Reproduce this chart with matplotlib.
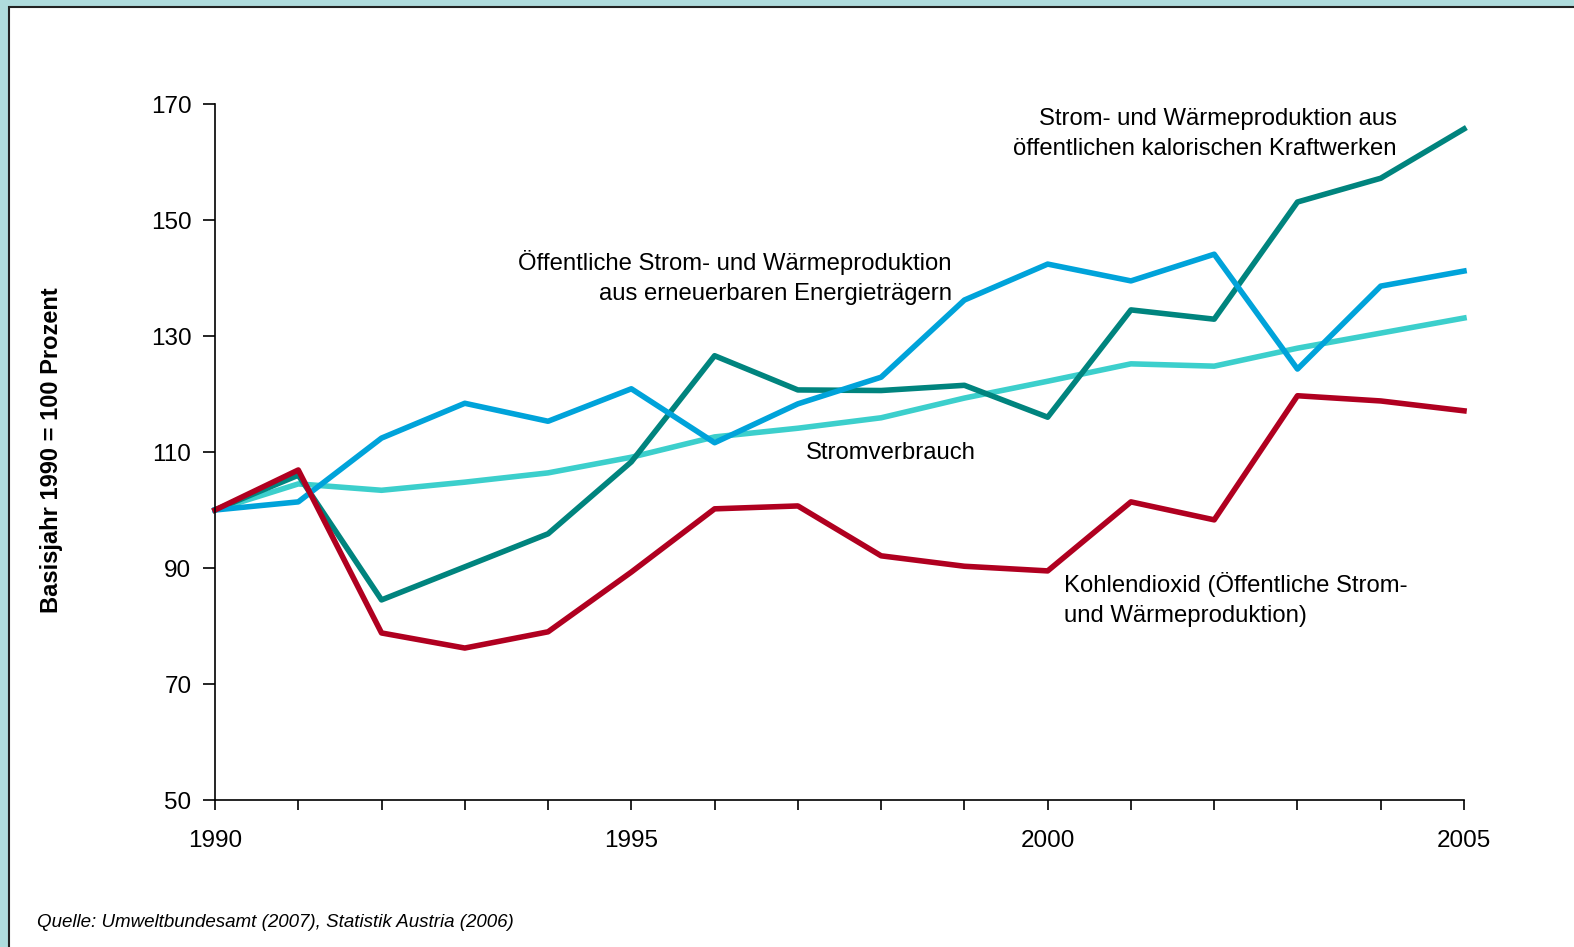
import matplotlib
matplotlib.use('Agg')
import matplotlib.pyplot as plt
from matplotlib.patches import Rectangle

plt.rcParams['font.family'] = ['Liberation Sans', 'DejaVu Sans']

years = list(range(1990, 2006))
kalorisch = [100, 106.0, 84.5, 90.2, 95.9, 108.3, 126.6, 120.7, 120.6, 121.5,
             116.0, 134.5, 132.9, 153.1, 157.2, 165.7]
erneuerbar = [100, 101.4, 112.4, 118.4, 115.3, 120.9, 111.6, 118.3, 122.9, 136.2,
              142.4, 139.5, 144.1, 124.3, 138.6, 141.2]
stromverbrauch = [100, 104.5, 103.4, 104.8, 106.4, 109.1, 112.6, 114.1, 115.9, 119.3,
                  122.2, 125.2, 124.8, 127.9, 130.5, 133.1]
kohlendioxid = [100, 106.9, 78.8, 76.2, 79.0, 89.3, 100.2, 100.7, 92.1, 90.3,
                89.5, 101.4, 98.3, 119.7, 118.8, 117.1]

yticks = [50, 70, 90, 110, 130, 150, 170]
xticklabels = {1990: '1990', 1995: '1995', 2000: '2000', 2005: '2005'}

fig = plt.figure(figsize=(15.74, 9.47), dpi=100)
fig.patch.set_facecolor('#afdcdd')
fig.patches.append(Rectangle((9 / 1574, -0.05), 1.2, 1.05 - 7 / 947,
                             transform=fig.transFigure, facecolor='white',
                             edgecolor='#222222', linewidth=1.5, zorder=-10))

ax = fig.add_axes([215 / 1574, 147 / 947, 1249 / 1574, 696 / 947])
ax.set_facecolor('none')
lw = 4.0
ax.plot(years, stromverbrauch, color='#3ccfcc', lw=lw, clip_on=False)
ax.plot(years, kalorisch, color='#00847e', lw=lw, clip_on=False)
ax.plot(years, erneuerbar, color='#00a3da', lw=lw, clip_on=False)
ax.plot(years, kohlendioxid, color='#b00020', lw=lw, clip_on=False)

ax.set_xlim(1990, 2005)
ax.set_ylim(50, 170)
ax.set_yticks(yticks)
ax.set_xticks(years)
ax.set_xticklabels([xticklabels.get(y, '') for y in years])
for s in ['top', 'right']:
    ax.spines[s].set_visible(False)
for s in ['left', 'bottom']:
    ax.spines[s].set_linewidth(1.2)
ax.tick_params(axis='y', length=9, width=1.2, pad=8, labelsize=17.5)
ax.tick_params(axis='x', length=7, width=1.2, pad=14.5, labelsize=17.5)

fs = 17.2
ax.text(2004.19, 164.8, 'Strom- und Wärmeproduktion aus\nöffentlichen kalorischen Kraftwerken',
        ha='right', va='center', fontsize=fs, linespacing=1.45)
ax.text(1998.85, 140.1, 'Öffentliche Strom- und Wärmeproduktion\naus erneuerbaren Energieträgern',
        ha='right', va='center', fontsize=fs, linespacing=1.45)
ax.text(1997.1, 109.8, 'Stromverbrauch', ha='left', va='center', fontsize=fs)
ax.text(2000.2, 84.6, 'Kohlendioxid (Öffentliche Strom-\nund Wärmeproduktion)',
        ha='left', va='center', fontsize=fs, linespacing=1.45)

fig.text(52 / 1574, 1 - 450 / 947, 'Basisjahr 1990 = 100 Prozent', rotation=90,
         ha='center', va='center', fontsize=17, fontweight='bold')
fig.text(37 / 1574, 1 - 922 / 947, 'Quelle: Umweltbundesamt (2007), Statistik Austria (2006)',
         ha='left', va='center', fontsize=13.5, style='italic')

fig.savefig('out.png', dpi=100)
